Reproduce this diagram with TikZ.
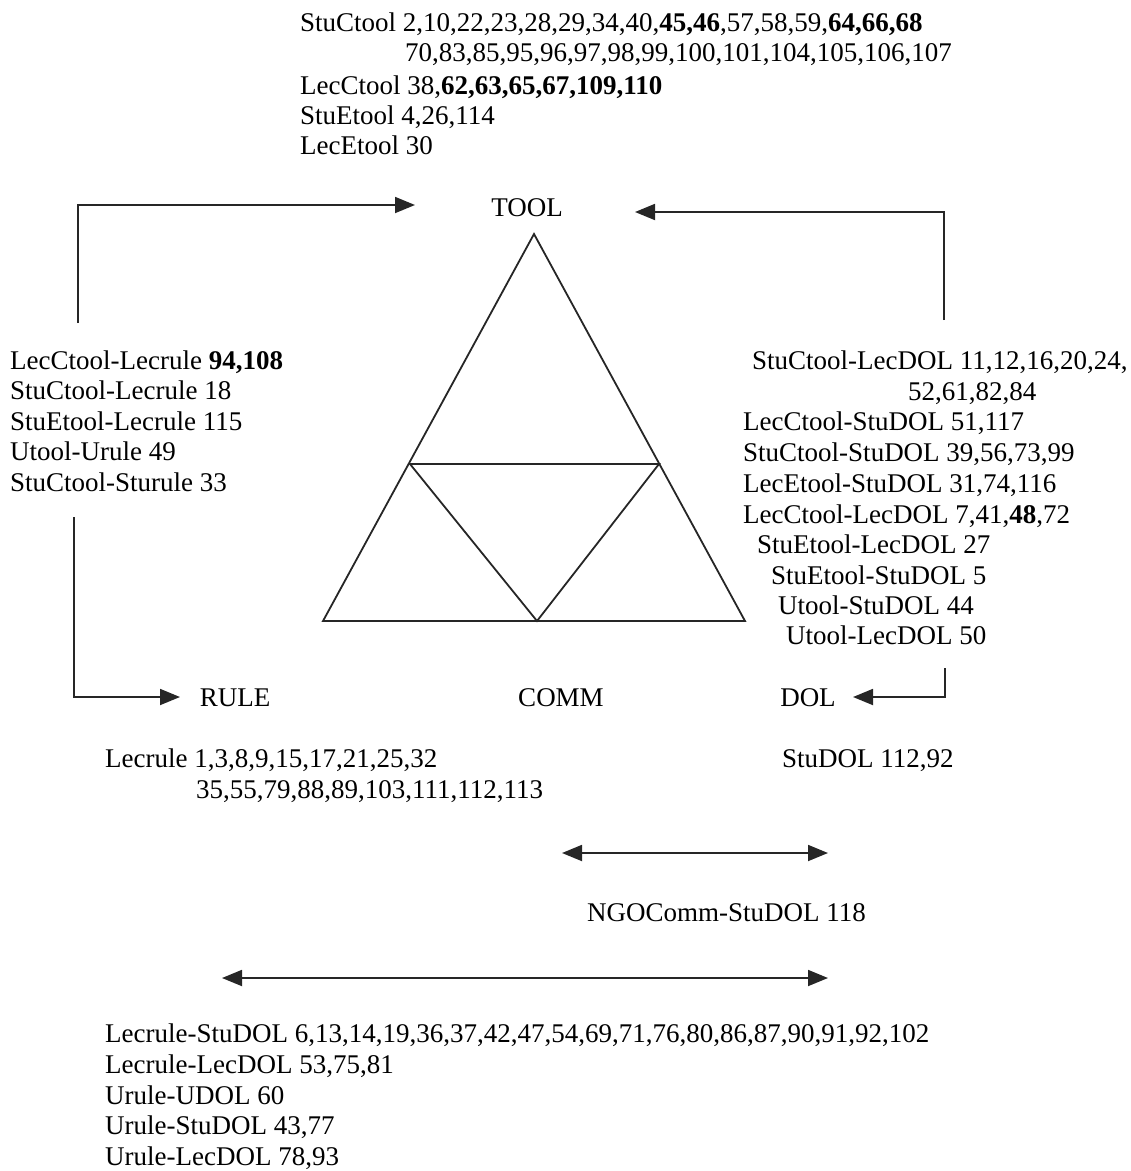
\documentclass[tikz,border=0pt]{standalone}
\usepackage{fontspec}
\setmainfont{Liberation Serif}
\usetikzlibrary{arrows.meta}
\begin{document}
\begin{tikzpicture}[x=1pt,y=-1pt,
  txt/.style={anchor=base west,inner sep=0pt,font=\fontsize{27}{31}\selectfont},
  lbl/.style={anchor=base,inner sep=0pt,font=\fontsize{27}{31}\selectfont},
  ln/.style={line width=1.8pt,black!85},
  arr/.style={ln,-{Triangle[length=20pt,width=16pt]}},
  darr/.style={ln,{Triangle[length=20pt,width=16pt]}-{Triangle[length=20pt,width=16pt]}}]
\useasboundingbox (0,0) rectangle (1131,1171);
% top block
\node[txt] (t1) at (300,31) {StuCtool 2,10,22,23,28,29,34,40,\textbf{45,46},57,58,59,\textbf{64,66,68}};
\node[txt] (t2) at (405,61) {70,83,85,95,96,97,98,99,100,101,104,105,106,107};
\node[txt] (t3) at (300,94) {LecCtool 38,\textbf{62,63,65,67,109,110}};
\node[txt] (t4) at (300,124) {StuEtool 4,26,114};
\node[txt] (t5) at (300,154) {LecEtool 30};
% corner labels
\node[lbl] (tool) at (527,216) {TOOL};
\node[lbl] (rule) at (235,706) {RULE};
\node[lbl] (comm) at (561,706) {COMM};
\node[lbl] (dol) at (808,706) {DOL};
% triangle
\coordinate (A) at (534,234);
\coordinate (B) at (323,621);
\coordinate (C) at (745,621);
\coordinate (P) at (410,464);
\coordinate (Q) at (659,464);
\coordinate (R) at (537,621);
\draw[ln,line join=miter] (A) -- (B) -- (C) -- cycle;
\draw[ln] (P) -- (Q) -- (R) -- cycle;
% left block
\node[txt] (l1) at (10,369) {LecCtool-Lecrule \textbf{94,108}};
\node[txt] (l2) at (10,399) {StuCtool-Lecrule 18};
\node[txt] (l3) at (10,430) {StuEtool-Lecrule 115};
\node[txt] (l4) at (10,460) {Utool-Urule 49};
\node[txt] (l5) at (10,491) {StuCtool-Sturule 33};
% right block
\node[txt] (r1) at (752,369) {StuCtool-LecDOL 11,12,16,20,24,};
\node[txt] (r2) at (908,400) {52,61,82,84};
\node[txt] (r3) at (743,430) {LecCtool-StuDOL 51,117};
\node[txt] (r4) at (743,461) {StuCtool-StuDOL 39,56,73,99};
\node[txt] (r5) at (743,492) {LecEtool-StuDOL 31,74,116};
\node[txt] (r6) at (743,523) {LecCtool-LecDOL 7,41,\textbf{48},72};
\node[txt] (r7) at (757,553) {StuEtool-LecDOL 27};
\node[txt] (r8) at (771,584) {StuEtool-StuDOL 5};
\node[txt] (r9) at (778,614) {Utool-StuDOL 44};
\node[txt] (r10) at (786,644) {Utool-LecDOL 50};
% rule / dol blocks
\node[txt] (lr1) at (105,767) {Lecrule 1,3,8,9,15,17,21,25,32};
\node[txt] (lr2) at (196,798) {35,55,79,88,89,103,111,112,113};
\node[txt] (sd) at (782,767) {StuDOL 112,92};
\node[txt] (ngo) at (587,921) {NGOComm-StuDOL 118};
% bottom block
\node[txt] (b1) at (105,1042) {Lecrule-StuDOL 6,13,14,19,36,37,42,47,54,69,71,76,80,86,87,90,91,92,102};
\node[txt] (b2) at (105,1073) {Lecrule-LecDOL 53,75,81};
\node[txt] (b3) at (105,1104) {Urule-UDOL 60};
\node[txt] (b4) at (105,1134) {Urule-StuDOL 43,77};
\node[txt] (b5) at (105,1165) {Urule-LecDOL 78,93};
% connectors
\coordinate (la0) at (78,323);
\coordinate (la1) at (78,205);
\coordinate (la2) at (415,205);
\draw[arr] (la0) -- (la1) -- (la2);
\coordinate (ra0) at (944,320);
\coordinate (ra1) at (944,212);
\coordinate (ra2) at (635,212);
\draw[arr] (ra0) -- (ra1) -- (ra2);
\coordinate (lb0) at (74,517);
\coordinate (lb1) at (74,697);
\coordinate (lb2) at (180,697);
\draw[arr] (lb0) -- (lb1) -- (lb2);
\coordinate (rb0) at (945,668);
\coordinate (rb1) at (945,697);
\coordinate (rb2) at (853,697);
\draw[arr] (rb0) -- (rb1) -- (rb2);
\coordinate (d1a) at (562,853);
\coordinate (d1b) at (828,853);
\draw[darr] (d1a) -- (d1b);
\coordinate (d2a) at (222,978);
\coordinate (d2b) at (828,978);
\draw[darr] (d2a) -- (d2b);
\end{tikzpicture}
\end{document}
